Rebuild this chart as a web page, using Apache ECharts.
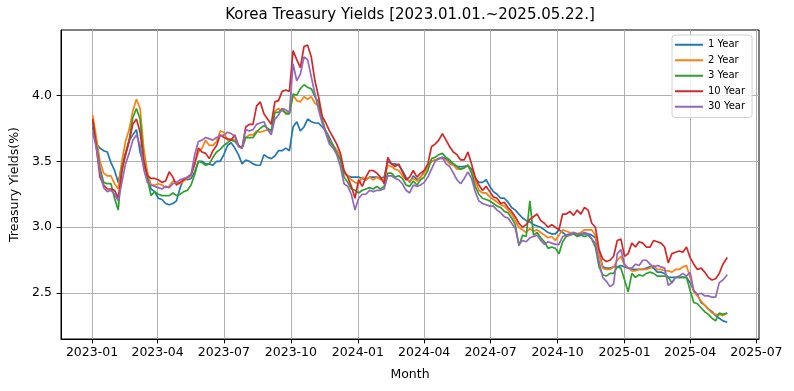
<!DOCTYPE html>
<html>
<head>
<meta charset="utf-8">
<script src="https://cdn.jsdelivr.net/npm/echarts@6/dist/echarts.min.js"></script>
<style>html,body{margin:0;padding:0;background:#fff}#c{width:794px;height:391px}</style>
</head>
<body>
<div id="c"></div>
<script>
const dates = [
'2023-01-02','2023-01-07','2023-01-12','2023-01-17','2023-01-22','2023-01-27','2023-02-01','2023-02-06','2023-02-11','2023-02-16',
'2023-02-21','2023-02-26','2023-03-03','2023-03-08','2023-03-13','2023-03-18','2023-03-23','2023-03-28','2023-04-02','2023-04-07',
'2023-04-12','2023-04-17','2023-04-22','2023-04-27','2023-05-02','2023-05-07','2023-05-12','2023-05-17','2023-05-22','2023-05-27',
'2023-06-01','2023-06-06','2023-06-11','2023-06-16','2023-06-21','2023-06-26','2023-07-01','2023-07-06','2023-07-11','2023-07-16',
'2023-07-21','2023-07-26','2023-07-31','2023-08-05','2023-08-10','2023-08-15','2023-08-20','2023-08-25','2023-08-30','2023-09-04',
'2023-09-09','2023-09-14','2023-09-19','2023-09-24','2023-09-29','2023-10-04','2023-10-09','2023-10-14','2023-10-19','2023-10-24',
'2023-10-29','2023-11-03','2023-11-08','2023-11-13','2023-11-18','2023-11-23','2023-11-28','2023-12-03','2023-12-08','2023-12-13',
'2023-12-18','2023-12-23','2023-12-28','2024-01-02','2024-01-07','2024-01-12','2024-01-17','2024-01-22','2024-01-27','2024-02-01',
'2024-02-06','2024-02-11','2024-02-16','2024-02-21','2024-02-26','2024-03-02','2024-03-07','2024-03-12','2024-03-17','2024-03-22',
'2024-03-27','2024-04-01','2024-04-06','2024-04-11','2024-04-16','2024-04-21','2024-04-26','2024-05-01','2024-05-06','2024-05-11',
'2024-05-16','2024-05-21','2024-05-26','2024-05-31','2024-06-05','2024-06-10','2024-06-15','2024-06-20','2024-06-25','2024-06-30',
'2024-07-05','2024-07-10','2024-07-15','2024-07-20','2024-07-25','2024-07-30','2024-08-04','2024-08-09','2024-08-14','2024-08-19',
'2024-08-24','2024-08-29','2024-09-03','2024-09-08','2024-09-13','2024-09-18','2024-09-23','2024-09-28','2024-10-03','2024-10-08',
'2024-10-13','2024-10-18','2024-10-23','2024-10-28','2024-11-02','2024-11-07','2024-11-12','2024-11-17','2024-11-22','2024-11-27',
'2024-12-02','2024-12-07','2024-12-12','2024-12-17','2024-12-22','2024-12-27','2025-01-01','2025-01-06','2025-01-11','2025-01-16',
'2025-01-21','2025-01-26','2025-01-31','2025-02-05','2025-02-10','2025-02-15','2025-02-20','2025-02-25','2025-03-02','2025-03-07',
'2025-03-12','2025-03-17','2025-03-22','2025-03-27','2025-04-01','2025-04-06','2025-04-11','2025-04-16','2025-04-21','2025-04-26',
'2025-05-01','2025-05-06','2025-05-11','2025-05-16','2025-05-22'];

const y1 = [
3.76,3.63,3.60,3.58,3.57,3.49,3.43,3.34,3.47,3.56,
3.66,3.70,3.74,3.57,3.47,3.40,3.29,3.27,3.22,3.21,
3.18,3.17,3.18,3.20,3.30,3.37,3.36,3.37,3.42,3.50,
3.50,3.48,3.48,3.47,3.50,3.50,3.55,3.62,3.64,3.60,
3.55,3.48,3.51,3.50,3.48,3.47,3.47,3.55,3.53,3.52,
3.54,3.58,3.58,3.60,3.58,3.76,3.80,3.73,3.76,3.82,
3.80,3.79,3.79,3.76,3.73,3.68,3.62,3.58,3.53,3.41,
3.39,3.38,3.38,3.38,3.37,3.36,3.38,3.38,3.38,3.37,
3.38,3.50,3.48,3.48,3.47,3.43,3.38,3.34,3.39,3.36,
3.38,3.42,3.46,3.50,3.51,3.52,3.53,3.52,3.49,3.48,
3.46,3.46,3.46,3.47,3.44,3.37,3.34,3.34,3.36,3.31,
3.27,3.25,3.22,3.22,3.19,3.15,3.13,3.10,3.07,3.05,
3.04,3.02,3.01,3.00,2.98,2.96,2.95,2.95,2.98,2.96,
2.94,2.95,2.96,2.94,2.95,2.95,2.95,2.94,2.92,2.81,
2.70,2.69,2.69,2.70,2.70,2.71,2.70,2.69,2.68,2.68,
2.68,2.68,2.69,2.70,2.69,2.66,2.66,2.65,2.62,2.62,
2.62,2.62,2.62,2.62,2.58,2.52,2.49,2.43,2.41,2.38,
2.36,2.33,2.31,2.29,2.28];

const y2 = [
3.85,3.68,3.50,3.41,3.39,3.39,3.33,3.29,3.50,3.65,
3.74,3.88,3.97,3.90,3.60,3.42,3.32,3.32,3.33,3.32,
3.30,3.31,3.35,3.34,3.33,3.35,3.37,3.39,3.48,3.57,
3.60,3.66,3.62,3.62,3.65,3.73,3.72,3.66,3.67,3.66,
3.62,3.60,3.68,3.70,3.70,3.73,3.72,3.73,3.74,3.72,
3.88,3.90,3.88,3.87,3.87,4.00,3.96,3.95,3.99,3.97,
3.99,3.94,3.92,3.82,3.72,3.66,3.62,3.58,3.53,3.41,
3.39,3.36,3.34,3.33,3.38,3.36,3.38,3.36,3.38,3.36,
3.36,3.47,3.46,3.44,3.43,3.39,3.36,3.35,3.37,3.35,
3.38,3.41,3.46,3.50,3.51,3.52,3.52,3.51,3.48,3.47,
3.44,3.44,3.45,3.47,3.42,3.35,3.28,3.26,3.26,3.23,
3.21,3.19,3.17,3.16,3.13,3.10,3.05,3.00,2.98,2.96,
2.99,2.97,2.98,2.96,2.94,2.92,2.93,2.90,2.94,2.98,
2.97,2.96,2.96,2.95,2.96,2.98,2.98,2.98,2.94,2.80,
2.69,2.68,2.68,2.70,2.75,2.78,2.71,2.69,2.67,2.67,
2.68,2.68,2.68,2.69,2.71,2.68,2.68,2.67,2.67,2.66,
2.68,2.68,2.70,2.71,2.62,2.51,2.48,2.44,2.41,2.38,
2.35,2.34,2.34,2.33,2.35];

const y3 = [
3.80,3.62,3.45,3.34,3.33,3.33,3.22,3.13,3.45,3.55,
3.66,3.83,3.90,3.82,3.52,3.37,3.24,3.27,3.25,3.24,
3.24,3.24,3.26,3.24,3.25,3.27,3.28,3.32,3.40,3.50,
3.49,3.47,3.48,3.53,3.57,3.59,3.62,3.64,3.66,3.65,
3.62,3.60,3.68,3.68,3.68,3.72,3.75,3.77,3.75,3.73,
3.87,3.87,3.90,3.86,3.86,4.01,4.00,4.05,4.08,4.06,
4.05,3.99,3.95,3.81,3.72,3.65,3.62,3.56,3.51,3.38,
3.34,3.29,3.28,3.26,3.28,3.29,3.30,3.29,3.31,3.29,
3.31,3.41,3.41,3.38,3.39,3.37,3.32,3.31,3.35,3.32,
3.36,3.38,3.43,3.52,3.53,3.55,3.56,3.53,3.51,3.48,
3.46,3.44,3.45,3.47,3.41,3.31,3.25,3.22,3.21,3.20,
3.18,3.16,3.15,3.12,3.11,3.07,3.02,2.86,2.94,2.93,
3.20,2.94,2.96,2.92,2.89,2.84,2.85,2.84,2.80,2.89,
2.93,2.94,2.95,2.93,2.94,2.93,2.94,2.91,2.85,2.70,
2.64,2.63,2.65,2.65,2.70,2.69,2.60,2.51,2.65,2.62,
2.64,2.63,2.65,2.66,2.65,2.63,2.63,2.63,2.62,2.58,
2.62,2.62,2.62,2.62,2.52,2.43,2.42,2.39,2.36,2.34,
2.31,2.29,2.35,2.34,2.35];

const y10 = [
3.82,3.60,3.38,3.32,3.29,3.29,3.28,3.22,3.42,3.55,
3.65,3.78,3.82,3.72,3.50,3.39,3.37,3.37,3.36,3.34,
3.35,3.42,3.38,3.32,3.34,3.36,3.38,3.40,3.48,3.60,
3.57,3.56,3.52,3.58,3.62,3.70,3.68,3.67,3.66,3.70,
3.62,3.60,3.76,3.78,3.78,3.92,3.95,3.86,3.82,3.78,
3.95,3.96,4.03,4.04,4.03,4.34,4.27,4.21,4.37,4.38,
4.29,4.11,3.99,3.84,3.79,3.73,3.68,3.63,3.56,3.43,
3.38,3.31,3.22,3.36,3.31,3.38,3.43,3.43,3.41,3.38,
3.33,3.53,3.48,3.46,3.48,3.42,3.36,3.38,3.43,3.38,
3.41,3.43,3.48,3.61,3.63,3.66,3.71,3.66,3.61,3.57,
3.55,3.51,3.51,3.57,3.48,3.38,3.32,3.28,3.31,3.27,
3.23,3.22,3.18,3.19,3.15,3.12,3.08,3.03,3.00,3.02,
3.06,3.08,3.10,3.05,3.03,3.00,3.02,3.00,2.98,3.10,
3.10,3.12,3.09,3.13,3.10,3.15,3.13,3.03,3.00,2.83,
2.76,2.74,2.75,2.78,2.90,2.91,2.78,2.80,2.88,2.85,
2.89,2.88,2.85,2.85,2.90,2.89,2.88,2.85,2.73,2.80,
2.81,2.82,2.81,2.85,2.77,2.72,2.68,2.69,2.66,2.62,
2.60,2.61,2.65,2.72,2.77];

const y30 = [
3.72,3.60,3.42,3.30,3.27,3.28,3.25,3.20,3.34,3.48,
3.56,3.66,3.70,3.62,3.44,3.34,3.32,3.31,3.30,3.29,
3.31,3.30,3.33,3.34,3.36,3.37,3.38,3.40,3.55,3.65,
3.66,3.68,3.67,3.66,3.68,3.69,3.70,3.72,3.71,3.69,
3.61,3.60,3.74,3.73,3.74,3.78,3.79,3.80,3.74,3.70,
3.82,3.85,3.90,3.89,3.87,4.24,4.11,4.16,4.29,4.27,
4.14,4.01,3.89,3.79,3.71,3.63,3.60,3.55,3.46,3.33,
3.31,3.25,3.13,3.22,3.25,3.25,3.28,3.27,3.28,3.28,
3.29,3.39,3.39,3.37,3.36,3.33,3.28,3.26,3.32,3.31,
3.32,3.34,3.38,3.44,3.50,3.52,3.53,3.48,3.46,3.41,
3.36,3.33,3.37,3.42,3.37,3.27,3.20,3.18,3.17,3.16,
3.16,3.13,3.11,3.08,3.07,3.03,2.99,2.87,2.90,2.89,
2.92,2.93,2.94,2.90,2.87,2.89,2.88,2.87,2.87,2.93,
2.94,2.94,2.96,2.95,2.95,2.96,2.95,2.91,2.88,2.74,
2.62,2.59,2.55,2.57,2.80,2.83,2.72,2.69,2.69,2.72,
2.71,2.75,2.75,2.72,2.70,2.71,2.70,2.69,2.56,2.58,
2.62,2.63,2.65,2.63,2.66,2.52,2.49,2.50,2.48,2.48,
2.47,2.47,2.58,2.60,2.64];

const seriesNames = ['1 Year','2 Year','3 Year','10 Year','30 Year'];
const seriesColors = ['#1f77b4','#ff7f0e','#2ca02c','#d62728','#9467bd'];
const yTicks = [2.5, 3.0, 3.5, 4.0];
const xTickLabels = ['2023-01','2023-04','2023-07','2023-10','2024-01','2024-04','2024-07','2024-10','2025-01','2025-04','2025-07'];

function parseDay(s){ const p = s.split('-').map(Number); return Date.UTC(p[0], p[1]-1, p[2] || 1); }
const xTicks = xTickLabels.map(parseDay);
const xMin = Date.UTC(2022, 10, 19, 11);
const xMax = Date.UTC(2025, 6, 4, 13);

const values = [y1, y2, y3, y10, y30];
const FONT = 'DejaVu Sans';

const chart = echarts.init(document.getElementById('c'), null, {renderer: 'canvas'});
chart.setOption({
  animation: false,
  backgroundColor: '#fff',
  title: {
    text: 'Korea Treasury Yields [2023.01.01.~2025.05.22.]',
    left: 410, top: 8, textAlign: 'center', padding: 0,
    textStyle: {fontFamily: FONT, fontSize: 15, fontWeight: 'normal', color: '#000'}
  },
  legend: {
    orient: 'vertical', left: 672, top: 35,
    padding: [2, 7, 3, 3], itemGap: 0,
    itemWidth: 28, itemHeight: 2, icon: 'rect',
    backgroundColor: 'rgba(255,255,255,0.8)', borderColor: '#d0d0d0', borderWidth: 1, borderRadius: 3,
    textStyle: {fontFamily: FONT, fontSize: 10, color: '#000', lineHeight: 15.5},
    data: seriesNames
  },
  grid: {left: 61, right: 35, top: 30, bottom: 52, show: true, borderColor: '#000', borderWidth: 1, containLabel: false},
  xAxis: {
    type: 'value', min: xMin, max: xMax,
    name: 'Month', nameLocation: 'middle', nameGap: 29,
    nameTextStyle: {fontFamily: FONT, fontSize: 12.5, color: '#000'},
    axisLine: {show: true, lineStyle: {color: '#000', width: 1}},
    axisTick: {show: true, length: 4.4, customValues: xTicks, lineStyle: {color: '#000', width: 1}},
    axisLabel: {customValues: xTicks, margin: 7, fontFamily: FONT, fontSize: 12.5, color: '#000',
      formatter: function (v) { const d = new Date(v); return d.getUTCFullYear() + '-' + String(d.getUTCMonth()+1).padStart(2,'0'); }},
    splitLine: {show: true, lineStyle: {color: '#b0b0b0', width: 1}}
  },
  yAxis: {
    type: 'value', min: 2.153, max: 4.495,
    name: 'Treasury Yields(%)', nameLocation: 'middle', nameGap: 38,
    nameTextStyle: {fontFamily: FONT, fontSize: 12.5, color: '#000'},
    axisLine: {show: true, lineStyle: {color: '#000', width: 1}},
    axisTick: {show: true, length: 4.4, customValues: yTicks, lineStyle: {color: '#000', width: 1}},
    axisLabel: {customValues: yTicks, margin: 9, fontFamily: FONT, fontSize: 12.5, color: '#000',
      formatter: function (v) { return Number(v).toFixed(1); }},
    splitLine: {show: true, lineStyle: {color: '#b0b0b0', width: 1}}
  },
  series: seriesNames.map(function (name, i) {
    return {
      name: name, type: 'line', symbol: 'none', showSymbol: false,
      color: seriesColors[i],
      lineStyle: {width: 1.7, color: seriesColors[i]},
      data: dates.map(function (d, j) { return [parseDay(d), values[i][j]]; })
    };
  })
});
</script>
</body>
</html>
